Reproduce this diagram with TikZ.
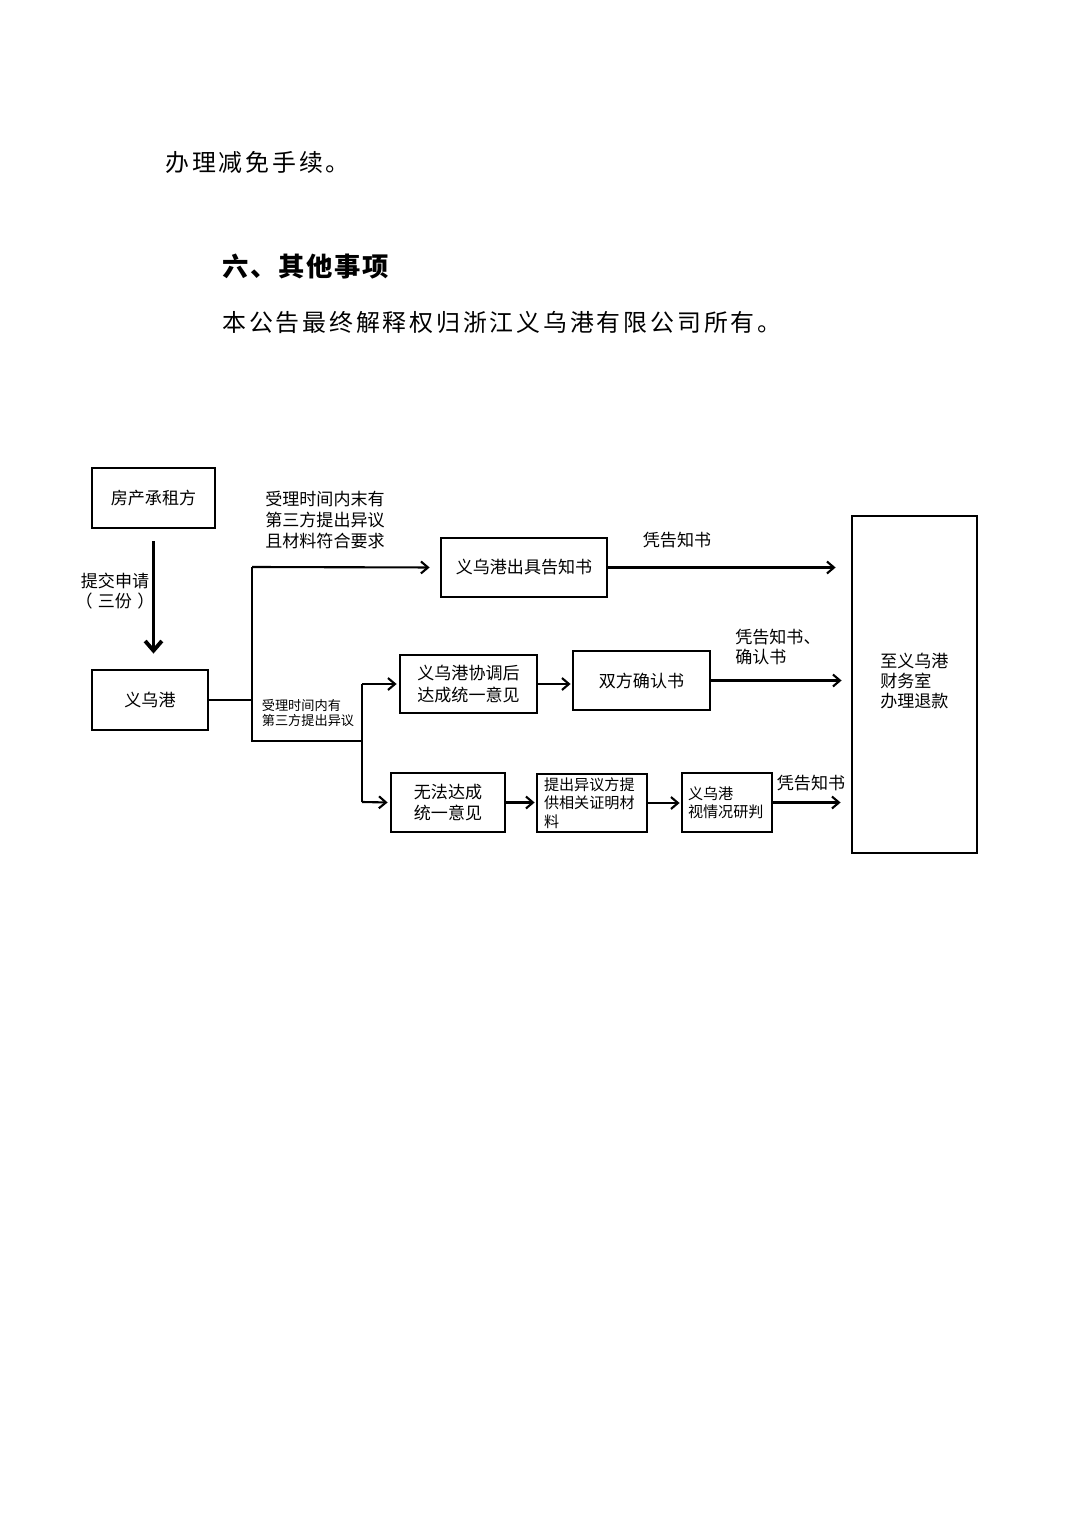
\documentclass[tikz,border=0pt]{standalone}
\usepackage{fontspec}
\setmainfont{Noto Sans CJK SC}
\newfontfamily\bodyfont[LetterSpace=12]{Noto Sans CJK SC}
\newfontfamily\headfont[LetterSpace=6]{Noto Sans CJK SC}
\usetikzlibrary{arrows.meta}
\newlength\pu \setlength\pu{0.02cm}
\begin{document}
\begin{tikzpicture}[x=0.02cm,y=-0.02cm,
  box/.style={draw, line width=1.6pt, inner sep=0, align=center, font=\fontsize{9.7}{12.2}\selectfont},
  lab/.style={inner sep=0, font=\fontsize{9.7}{11.6}\selectfont},
  conn/.style={line width=1.2pt},
  arr/.style={conn, -{Straight Barb[length=4pt,width=6.8pt]}},
  body/.style={inner sep=0, anchor=west, font=\bodyfont\fontsize{13.6}{16}\selectfont},
  head/.style={inner sep=0, anchor=west, font=\headfont\bfseries\fontsize{15}{18}\selectfont}]
\fill[white] (0,0) rectangle (1080,1527);
\useasboundingbox (0,0) rectangle (1080,1527);

% page text
\node[body] (p1) at (165,162) {办理减免手续。};
\node[head] (p2) at (222,267) {六、其他事项};
\node[body] (p3) at (222,322) {本公告最终解释权归浙江义乌港有限公司所有。};

% boxes
\node[box, minimum width=123\pu, minimum height=60\pu] (a) at (153.5,498) {房产承租方};
\node[box, minimum width=116\pu, minimum height=60\pu] (b) at (150,700) {义乌港};
\node[box, minimum width=166\pu, minimum height=59\pu] (c) at (524,567.5) {义乌港出具告知书};
\node[box, minimum width=137\pu, minimum height=58\pu] (d) at (468.5,684) {义乌港协调后\\达成统一意见};
\node[box, minimum width=137\pu, minimum height=59\pu] (e) at (641.5,680.5) {双方确认书};
\node[box, minimum width=114\pu, minimum height=59\pu] (f) at (448,802.5) {无法达成\\统一意见};
\node[box, minimum width=110\pu, minimum height=58\pu, align=left, text width=96\pu,
      font=\fontsize{8.6}{10.5}\selectfont] (g) at (592,803) {提出异议方提\\供相关证明材\\料};
\node[box, minimum width=90\pu, minimum height=59\pu, align=left, text width=78\pu,
      font=\fontsize{8.6}{10.3}\selectfont] (h) at (727,802.5) {义乌港\\视情况研判};
\node[box, minimum width=125\pu, minimum height=337\pu] (i) at (914.5,684.5) {};
\node[lab, anchor=west, align=left] (it) at (880,681) {至义乌港\\财务室\\办理退款};

% labels
\node[lab, align=center] (l1) at (115,591) {提交申请\\（\hspace{3pt}三份\hspace{3pt}）};
\node[lab, align=left, font=\fontsize{9.7}{12.2}\selectfont] (l2) at (325,520) {受理时间内末有\\第三方提出异议\\且材料符合要求};
\node[lab, align=left, font=\fontsize{7.5}{8}\selectfont] (l3) at (308,713) {受理时间内有\\第三方提出异议};
\node[lab] (l4) at (677,540) {凭告知书};
\node[lab, anchor=west, align=left] (l5) at (735,647) {凭告知书、\\确认书};
\node[lab] (l6) at (811,783) {凭告知书};

% junctions
\coordinate (t1) at (252,567);
\coordinate (t2) at (252,741);
\coordinate (m0) at (362,741);
\coordinate (m1) at (362,684);
\coordinate (m2) at (362,802);

% connectors
\draw[line width=2.2pt, -{Straight Barb[length=5.5pt,width=9.5pt]}, shorten <=12\pu, shorten >=15\pu] (a.south) -- (a.south |- b.north);
\draw[conn] (b.east) -- (b.east -| t1);
\draw[conn] (t1) -- (t2) -- (m0);
\draw[conn] (m1) -- (m2);
\draw[arr, shorten >=10\pu] (t1) -- (c.west);
\draw[arr, shorten >=2\pu] (m1) -- (d.west);
\draw[arr, shorten >=2\pu] (m2) -- (f.west);
\draw[arr, shorten >=15\pu] (c.east) -- (c.east -| i.west);
\draw[arr, shorten >=1\pu] (d.east) -- (d.east -| e.west);
\draw[arr, shorten >=9\pu] (e.east) -- (e.east -| i.west);
\draw[arr, shorten >=1\pu] (f.east) -- (f.east -| g.west);
\draw[arr, shorten >=1\pu] (g.east) -- (g.east -| h.west);
\draw[arr, shorten >=10\pu] (h.east) -- (h.east -| i.west);
\end{tikzpicture}
\end{document}
